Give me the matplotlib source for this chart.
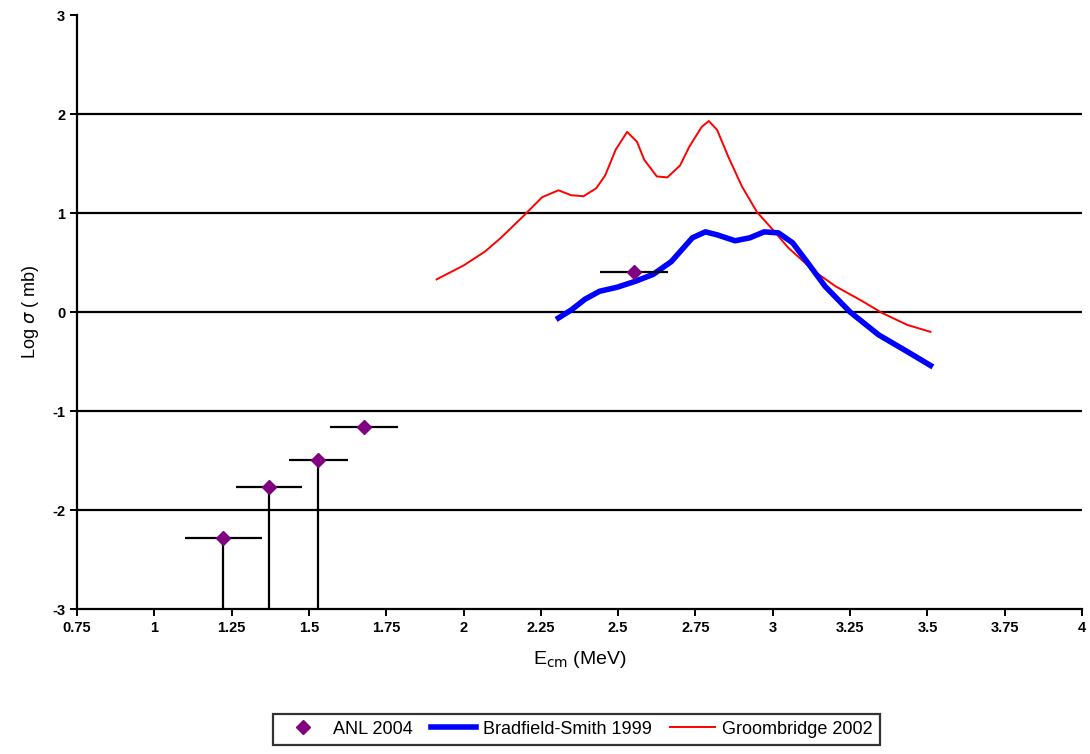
import numpy as np
import matplotlib.pyplot as plt
from matplotlib.lines import Line2D

plt.rcParams['font.family'] = ['Liberation Sans', 'DejaVu Sans']
plt.rcParams['axes.unicode_minus'] = False

# ANL 2004 points
anl_x = [1.223, 1.372, 1.531, 1.677, 2.55]
anl_y = [-2.28, -1.77, -1.49, -1.16, 0.40]
anl_xerr = [0.125, 0.107, 0.094, 0.11, 0.11]
anl_ylow = [0.72, 1.23, 1.51, 0.0, 0.0]   # lower bar down to the axis floor

# Bradfield-Smith 1999
bs_x = [2.307, 2.348, 2.393, 2.44, 2.496, 2.555, 2.613, 2.672, 2.74, 2.782,
        2.82, 2.878, 2.926, 2.972, 3.018, 3.064, 3.11, 3.169, 3.25, 3.342,
        3.435, 3.51]
bs_y = [-0.06, 0.02, 0.13, 0.21, 0.25, 0.31, 0.38, 0.51, 0.75, 0.81,
        0.78, 0.72, 0.75, 0.81, 0.80, 0.70, 0.51, 0.26, 0.00, -0.23,
        -0.40, -0.54]

# Groombridge 2002
gr_x = [1.913, 2.0, 2.069, 2.121, 2.197, 2.254, 2.307, 2.348, 2.388, 2.429,
        2.458, 2.492, 2.529, 2.561, 2.584, 2.625, 2.659, 2.70, 2.73, 2.77,
        2.793, 2.82, 2.856, 2.90, 2.949, 2.995, 3.05, 3.135, 3.203, 3.284,
        3.354, 3.435, 3.51]
gr_y = [0.33, 0.47, 0.61, 0.75, 0.98, 1.16, 1.23, 1.18, 1.17, 1.25,
        1.38, 1.64, 1.82, 1.72, 1.54, 1.37, 1.36, 1.48, 1.67, 1.87,
        1.93, 1.84, 1.57, 1.27, 1.01, 0.85, 0.65, 0.41, 0.26, 0.12,
        -0.01, -0.13, -0.20]

x_ticks = np.arange(0.75, 4.01, 0.25)
x_labels = ['0.75', '1', '1.25', '1.5', '1.75', '2', '2.25', '2.5', '2.75',
            '3', '3.25', '3.5', '3.75', '4']
y_ticks = [-3, -2, -1, 0, 1, 2, 3]

fig = plt.figure(figsize=(10.9, 7.54), dpi=100)
ax = fig.add_axes([0.0706, 0.1923, 0.9221, 0.7877])

for yv in [-2, -1, 0, 1, 2]:
    ax.axhline(yv, color='black', lw=1.6, zorder=1)

ax.plot(gr_x, gr_y, color='red', lw=1.4, zorder=3)
ax.plot(bs_x, bs_y, color='blue', lw=4, zorder=4)

ax.errorbar(anl_x, anl_y, xerr=anl_xerr,
            yerr=[anl_ylow, [0] * len(anl_y)],
            fmt='none', ecolor='black', elinewidth=1.6, capsize=0, zorder=5)
ax.plot(anl_x, anl_y, 'D', color='purple', ms=7, zorder=6)

ax.set_xlim(0.75, 4.0)
ax.set_ylim(-3, 3)
ax.set_xticks(x_ticks)
ax.set_xticklabels(x_labels)
ax.set_yticks(y_ticks)
ax.tick_params(axis='both', direction='out', length=5, width=1.4, labelsize=10.5)
for lbl in ax.get_xticklabels() + ax.get_yticklabels():
    lbl.set_fontweight('bold')

for s in ['top', 'right']:
    ax.spines[s].set_visible(False)
for s in ['left', 'bottom']:
    ax.spines[s].set_linewidth(1.6)

ax.set_xlabel(r'E$_{\rm cm}$ (MeV)', fontsize=14, labelpad=10)
ax.set_ylabel(r'Log $\sigma$ ( mb)', fontsize=13, labelpad=8)

handles = [
    Line2D([], [], ls='none', marker='D', color='purple', ms=7),
    Line2D([], [], color='blue', lw=4),
    Line2D([], [], color='red', lw=1.4),
]
labels = ['ANL 2004', 'Bradfield-Smith 1999', 'Groombridge 2002']
leg = fig.legend(handles, labels, loc='lower center', bbox_to_anchor=(0.529, 0.0),
                 ncol=3, frameon=True, fancybox=False, edgecolor='black',
                 fontsize=13, handlelength=2.5, columnspacing=1.0,
                 handletextpad=0.4, borderpad=0.4)
leg.get_frame().set_linewidth(1.6)

fig.savefig('out.png', dpi=100)
